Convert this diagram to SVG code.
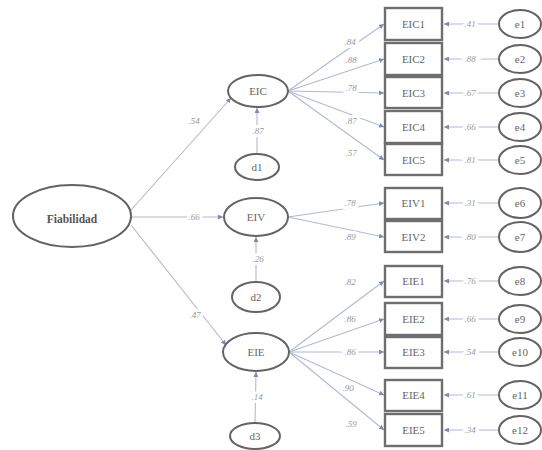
<svg xmlns="http://www.w3.org/2000/svg" width="542" height="450" viewBox="0 0 542 450">
<style>
.lat{fill:#fff;stroke:#636363;stroke-width:2}
.box{fill:#fff;stroke:#6e6e6e;stroke-width:2.4}
.t{font-family:"Liberation Serif","Times New Roman",serif;font-size:11px;fill:#666;text-anchor:middle}
.b{font-weight:bold;font-size:11.5px;fill:#555}
.c{font-family:"Liberation Serif","Times New Roman",serif;font-size:9px;font-style:italic;fill:#999;text-anchor:middle;paint-order:stroke;stroke:#fff;stroke-width:6}
.ln{stroke:#b3b9d2;stroke-width:1.1;fill:none;marker-end:url(#arr)}
</style>
<defs>
<marker id="arr" markerUnits="userSpaceOnUse" markerWidth="6" markerHeight="5" refX="5" refY="2.5" orient="auto">
<path d="M0,0 L5,2.5 L0,5 z" fill="#7f88b4"/>
</marker>
</defs>
<rect width="542" height="450" fill="#fff"/>
<g id="connectors">
<line class="ln" x1="131" y1="210" x2="231" y2="98"/>
<line class="ln" x1="131" y1="217" x2="223" y2="217"/>
<line class="ln" x1="131" y1="225" x2="226" y2="345"/>
<line class="ln" x1="257" y1="154" x2="257" y2="108"/>
<line class="ln" x1="256" y1="282" x2="256" y2="237"/>
<line class="ln" x1="255" y1="423" x2="256" y2="372"/>
<line class="ln" x1="288" y1="91" x2="384" y2="24"/>
<line class="ln" x1="288" y1="91" x2="384" y2="59"/>
<line class="ln" x1="288" y1="91" x2="384" y2="93"/>
<line class="ln" x1="288" y1="91" x2="384" y2="127"/>
<line class="ln" x1="288" y1="91" x2="384" y2="160"/>
<line class="ln" x1="288" y1="217" x2="384" y2="203"/>
<line class="ln" x1="288" y1="217" x2="384" y2="237"/>
<line class="ln" x1="289" y1="352" x2="384" y2="281"/>
<line class="ln" x1="289" y1="352" x2="384" y2="319"/>
<line class="ln" x1="289" y1="352" x2="384" y2="352"/>
<line class="ln" x1="289" y1="352" x2="384" y2="395"/>
<line class="ln" x1="289" y1="352" x2="384" y2="430"/>
<line class="ln" x1="498" y1="24" x2="444" y2="24"/>
<line class="ln" x1="498" y1="59" x2="444" y2="59"/>
<line class="ln" x1="498" y1="93" x2="444" y2="93"/>
<line class="ln" x1="498" y1="127" x2="444" y2="127"/>
<line class="ln" x1="498" y1="160" x2="444" y2="160"/>
<line class="ln" x1="498" y1="203" x2="444" y2="203"/>
<line class="ln" x1="498" y1="237" x2="444" y2="237"/>
<line class="ln" x1="498" y1="281" x2="444" y2="281"/>
<line class="ln" x1="498" y1="319" x2="444" y2="319"/>
<line class="ln" x1="498" y1="352" x2="444" y2="352"/>
<line class="ln" x1="498" y1="395" x2="444" y2="395"/>
<line class="ln" x1="498" y1="430" x2="444" y2="430"/>
<text class="c" x="194" y="124">.54</text>
<text class="c" x="194" y="220">.66</text>
<text class="c" x="195" y="318">.47</text>
<text class="c" x="258" y="134">.87</text>
<text class="c" x="258" y="262">.26</text>
<text class="c" x="257" y="400">.14</text>
<text class="c" x="350" y="45">.84</text>
<text class="c" x="351" y="63">.88</text>
<text class="c" x="351" y="91">.78</text>
<text class="c" x="351" y="124">.87</text>
<text class="c" x="351" y="156">.57</text>
<text class="c" x="350" y="206">.78</text>
<text class="c" x="350" y="240">.89</text>
<text class="c" x="350" y="285">.82</text>
<text class="c" x="350" y="322">.86</text>
<text class="c" x="350" y="355">.86</text>
<text class="c" x="348" y="391">.90</text>
<text class="c" x="351" y="427">.59</text>
<text class="c" x="470" y="27">.41</text>
<text class="c" x="470" y="62">.88</text>
<text class="c" x="470" y="96">.67</text>
<text class="c" x="470" y="130">.66</text>
<text class="c" x="470" y="163">.81</text>
<text class="c" x="470" y="206">.31</text>
<text class="c" x="470" y="240">.80</text>
<text class="c" x="470" y="284">.76</text>
<text class="c" x="470" y="322">.66</text>
<text class="c" x="470" y="355">.54</text>
<text class="c" x="470" y="398">.61</text>
<text class="c" x="470" y="433">.34</text>
</g>
<g id="Fiabilidad"><ellipse class="lat" cx="72" cy="216" rx="59" ry="31"/><text class="t b" x="72" y="223">Fiabilidad</text></g>
<g id="EIC"><ellipse class="lat" cx="258" cy="91" rx="30" ry="16"/><text class="t" x="258" y="95">EIC</text></g>
<g id="EIV"><ellipse class="lat" cx="256" cy="217" rx="32" ry="19"/><text class="t" x="256" y="221">EIV</text></g>
<g id="EIE"><ellipse class="lat" cx="256" cy="352" rx="33" ry="19"/><text class="t" x="256" y="356">EIE</text></g>
<g id="d1"><ellipse class="lat" cx="257" cy="167" rx="22" ry="13"/><text class="t" x="257" y="171">d1</text></g>
<g id="d2"><ellipse class="lat" cx="256" cy="297" rx="24" ry="15"/><text class="t" x="256" y="301">d2</text></g>
<g id="d3"><ellipse class="lat" cx="255" cy="436" rx="25" ry="13"/><text class="t" x="255" y="440">d3</text></g>
<g id="EIC1"><rect class="box" x="385" y="8" width="57" height="32"/><text class="t" x="413.5" y="28">EIC1</text></g>
<g id="EIC2"><rect class="box" x="385" y="43" width="57" height="32"/><text class="t" x="413.5" y="63">EIC2</text></g>
<g id="EIC3"><rect class="box" x="385" y="77" width="57" height="31"/><text class="t" x="413.5" y="97">EIC3</text></g>
<g id="EIC4"><rect class="box" x="385" y="111" width="57" height="32"/><text class="t" x="413.5" y="131">EIC4</text></g>
<g id="EIC5"><rect class="box" x="385" y="144" width="57" height="31"/><text class="t" x="413.5" y="164">EIC5</text></g>
<g id="EIV1"><rect class="box" x="385" y="188" width="57" height="31"/><text class="t" x="413.5" y="207">EIV1</text></g>
<g id="EIV2"><rect class="box" x="385" y="221" width="57" height="31"/><text class="t" x="413.5" y="241">EIV2</text></g>
<g id="EIE1"><rect class="box" x="385" y="266" width="57" height="31"/><text class="t" x="413.5" y="285">EIE1</text></g>
<g id="EIE2"><rect class="box" x="385" y="303" width="57" height="32"/><text class="t" x="413.5" y="323">EIE2</text></g>
<g id="EIE3"><rect class="box" x="385" y="337" width="57" height="31"/><text class="t" x="413.5" y="356">EIE3</text></g>
<g id="EIE4"><rect class="box" x="385" y="380" width="57" height="31"/><text class="t" x="413.5" y="399">EIE4</text></g>
<g id="EIE5"><rect class="box" x="385" y="414" width="57" height="32"/><text class="t" x="413.5" y="434">EIE5</text></g>
<g id="e1"><ellipse class="lat" cx="520" cy="24" rx="21" ry="14"/><text class="t" x="520" y="28">e1</text></g>
<g id="e2"><ellipse class="lat" cx="520" cy="59" rx="21" ry="14"/><text class="t" x="520" y="63">e2</text></g>
<g id="e3"><ellipse class="lat" cx="520" cy="93" rx="21" ry="14"/><text class="t" x="520" y="97">e3</text></g>
<g id="e4"><ellipse class="lat" cx="520" cy="127" rx="21" ry="14"/><text class="t" x="520" y="131">e4</text></g>
<g id="e5"><ellipse class="lat" cx="520" cy="160" rx="21" ry="14"/><text class="t" x="520" y="164">e5</text></g>
<g id="e6"><ellipse class="lat" cx="520" cy="203" rx="21" ry="15"/><text class="t" x="520" y="207">e6</text></g>
<g id="e7"><ellipse class="lat" cx="520" cy="237" rx="21" ry="15"/><text class="t" x="520" y="241">e7</text></g>
<g id="e8"><ellipse class="lat" cx="520" cy="281" rx="21" ry="14"/><text class="t" x="520" y="285">e8</text></g>
<g id="e9"><ellipse class="lat" cx="520" cy="319" rx="21" ry="14"/><text class="t" x="520" y="323">e9</text></g>
<g id="e10"><ellipse class="lat" cx="520" cy="352" rx="21" ry="14"/><text class="t" x="520" y="356">e10</text></g>
<g id="e11"><ellipse class="lat" cx="520" cy="395" rx="21" ry="14"/><text class="t" x="520" y="399">e11</text></g>
<g id="e12"><ellipse class="lat" cx="520" cy="430" rx="21" ry="14"/><text class="t" x="520" y="434">e12</text></g>
</svg>
